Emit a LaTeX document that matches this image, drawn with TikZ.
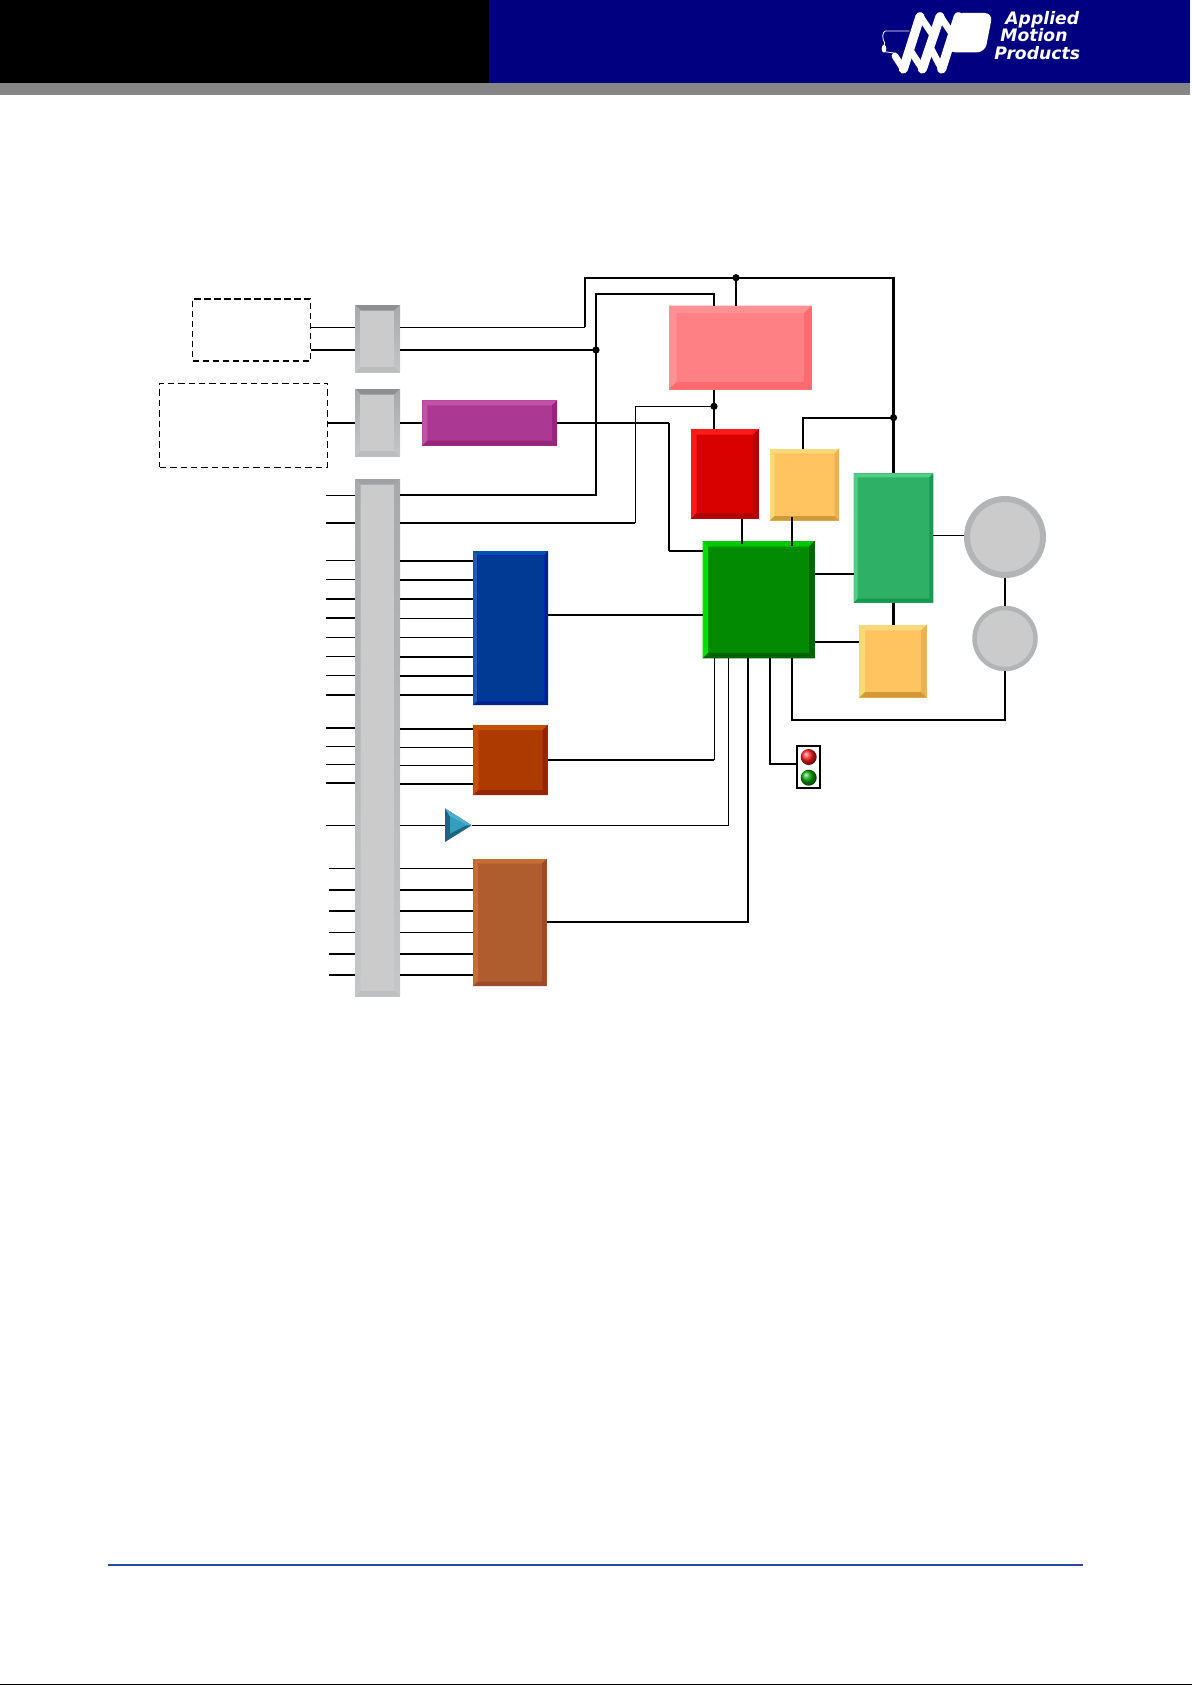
\documentclass[tikz,border=0pt]{standalone}
\usepackage{fontspec}
\newfontfamily\logofont{DejaVu Sans}
\newcommand\mypal[6]{%
  \definecolor{#1Fc}{HTML}{#2}\definecolor{#1Tc}{HTML}{#3}\definecolor{#1Lc}{HTML}{#4}%
  \definecolor{#1Rc}{HTML}{#5}\definecolor{#1Bc}{HTML}{#6}%
  \tikzset{#1T/.style={fill=#1Tc},#1L/.style={fill=#1Lc},#1R/.style={fill=#1Rc},#1B/.style={fill=#1Bc}}}
\mypal{pink}{FF8084}{FF9194}{FF9194}{FF6A6E}{FF6A6E}
\mypal{mag}{AB3893}{C052A8}{C052A8}{96257E}{96257E}
\mypal{red}{D90000}{FF1A1A}{FF1A1A}{B00000}{B00000}
\mypal{yel}{FFC35F}{FFD878}{FFD878}{EDB04F}{D29A35}
\mypal{grn}{2EB067}{50CE85}{50CE85}{169A50}{169A50}
\mypal{main}{028A02}{00C800}{00E000}{006400}{006400}
\mypal{blu}{003A94}{0050B0}{1A5FB5}{002480}{002480}
\mypal{org}{AD3A00}{C25200}{C25200}{952500}{952500}
\mypal{brn}{AF5C2F}{C56F33}{C56F33}{9E4A2A}{9E4A2A}
\mypal{gry}{CBCBCB}{8E8F91}{B4B5B7}{B4B5B7}{BBBCBE}
\mypal{gbar}{CBCBCB}{A0A1A3}{B4B5B7}{B4B5B7}{BEBFC1}
\definecolor{grayA}{HTML}{A8A9AB}\definecolor{grayB}{HTML}{C5C6C8}
\definecolor{ringc}{HTML}{B3B4B6}\definecolor{grayF}{HTML}{CBCBCB}
\definecolor{headblue}{HTML}{000080}\definecolor{headgray}{HTML}{868686}
\definecolor{rule}{HTML}{2A4B9B}
\definecolor{trface}{HTML}{339FBF}\definecolor{trdark}{HTML}{1E667F}\definecolor{trlight}{HTML}{4BB0CE}
\tikzset{
 gryL/.style={top color=grayA,bottom color=grayB},gryR/.style={top color=grayA,bottom color=grayB},
 gbarL/.style={top color=grayA,bottom color=grayB},gbarR/.style={top color=grayA,bottom color=grayB},
 thinw/.style={line width=0.6pt,black},
 medw/.style={line width=0.85pt,black},
 thickw/.style={line width=1.1pt,black},
 dot/.style={circle,fill=black,inner sep=0pt,minimum size=3.6pt},
 dashA/.style={draw=black,line width=0.75pt,dash pattern=on 3.2pt off 1.8pt,inner sep=0pt},
 dashB/.style={draw=black,line width=0.5pt,dash pattern=on 3.2pt off 2pt,inner sep=0pt},
 motor/.style={circle,draw=ringc,fill=grayF,inner sep=0pt},
 logotext/.style={anchor=base west,inner sep=0pt,text=white,font=\logofont\bfseries\itshape\fontsize{8.6}{10}\selectfont},
 coil/.style={white,line width=4.6pt,line cap=round},
 coilback/.style={white,line width=3.4pt,line cap=round},
}
% name, x1,y1,x2,y2, palette, bevel
\newcommand\bbox[7]{%
  \node[inner sep=0pt,outer sep=0pt,minimum width={(#4-#2)*0.5pt},minimum height={(#5-#3)*0.5pt},fill=#6Fc]
     (#1) at ({(#2+#4)/2},{(#3+#5)/2}) {};
  \path[#6T] (#2,#3)--(#4,#3)--({#4-#7},{#3+#7})--({#2+#7},{#3+#7})--cycle;
  \path[#6L] (#2,#3)--({#2+#7},{#3+#7})--({#2+#7},{#5-#7})--(#2,#5)--cycle;
  \path[#6R] (#4,#3)--({#4-#7},{#3+#7})--({#4-#7},{#5-#7})--(#4,#5)--cycle;
  \path[#6B] (#2,#5)--({#2+#7},{#5-#7})--({#4-#7},{#5-#7})--(#4,#5)--cycle;
}
\begin{document}
\begin{tikzpicture}[x=0.5pt,y=-0.5pt]
\useasboundingbox (0,0) rectangle (1192,1685);
% header
\fill[black] (0,0) rectangle (489,83);
\fill[headblue] (489,0) rectangle (1190,83);
\fill[headgray] (0,83) rectangle (1190,95);
% logo
\begin{scope}[shift={(870,0)},x=0.16667pt,y=-0.16667pt]
 \draw[coil] (100,207) -- (150,50);
 \draw[coil] (157,207) -- (210,50);
 \draw[coil] (215,207) -- (265,50);
 \draw[coilback] (150,48) -- (185,100);
 \draw[coilback] (210,48) -- (245,100);
 \draw[coilback] (120,150) -- (157,207);
 \draw[coilback] (185,150) -- (215,207);
 \draw[coilback] (75,168) -- (100,207);
 \fill[white,rounded corners=4pt] (255,39) -- (368,39) -- (345,157) -- (232,157) -- cycle;
 \draw[white,line width=0.4pt] (118,93) -- (46,93) .. controls (36,95) and (36,118) .. (44,128) -- (42,140);
 \draw[white,line width=0.4pt] (44,155) -- (78,160);
 \fill[white] (42,146) ellipse (7 and 12);
\end{scope}
\node[logotext] (lt1) at (1005,25) {Applied};
\node[logotext] (lt2) at (1000,42) {Motion};
\node[logotext] (lt3) at (994,60) {Products};
% footer
\fill[rule] (108,1564) rectangle (1083,1566);
\fill[black] (0,1684) rectangle (1192,1685);
% dashed boxes
\node[dashA,minimum width=59pt,minimum height=31pt] (d1) at (251.7,330) {};
\node[dashB,minimum width=84pt,minimum height=42pt] (d2) at (243.7,425) {};
% boxes
\bbox{g1}{355}{305}{400}{372.7}{gry}{5.7}
\bbox{g2}{355}{389}{400}{456.7}{gry}{5.7}
\bbox{bar}{355}{479}{400}{996.7}{gbar}{5.7}
\bbox{magb}{422.3}{400.3}{557}{445.7}{mag}{5}
\bbox{pinkb}{669}{305.7}{811.7}{389.7}{pink}{7.5}
\bbox{redb}{691}{429}{758.7}{518.7}{red}{5.7}
\bbox{yelA}{770}{449}{839}{520.7}{yel}{4.5}
\bbox{grnb}{853.7}{473.3}{933.3}{602.7}{grn}{4}
\bbox{mainb}{702.7}{541}{814.7}{658.3}{main}{5.5}
\bbox{yelB}{859.3}{625}{926.7}{697.7}{yel}{5.5}
\bbox{blub}{473.3}{551}{548}{705}{blu}{4}
\draw[line width=0.4pt,color=blue!40!bluFc] (477.3,555) rectangle (544,701);
\bbox{orgb}{473.3}{725}{547.7}{795}{org}{5}
\bbox{brnb}{473.3}{859}{546.7}{986}{brn}{4.5}
% motors
\node[motor,line width=3pt,minimum size=38pt] (m1) at (1005,537) {};
\node[motor,line width=2.25pt,minimum size=30.5pt] (m2) at (1005,638.5) {};
% amplifier
\coordinate (trA) at (445,808.3);\coordinate (trB) at (471.7,825.3);\coordinate (trC) at (445,842);
\fill[trdark] (trA)--(trB)--(trC)--cycle;
\fill[trlight] (trA)--(trB)--(466.5,825.3)--(450,816.5)--cycle;
\fill[trface] (450,816.5)--(466.5,825.3)--(450,833.5)--cycle;
% LED block
\node[draw=black,line width=0.9pt,inner sep=0pt,minimum width=11.8pt,minimum height=21.3pt,fill=white] (led) at (808.5,767) {};
\node[circle,ball color=red!90!white,inner sep=0pt,minimum size=8pt] (ledr) at (808.7,757) {};
\node[circle,ball color=green!65!black,inner sep=0pt,minimum size=8pt] (ledg) at (808.7,777.7) {};
% junctions
\node[dot] (j1) at (736,277.7) {};
\node[dot] (j2) at (596,350) {};
\node[dot] (j3) at (714,406.3) {};
\node[dot] (j4) at (893.5,417.7) {};
% upper section
\draw[thinw] (d1.east |- 0,327.3) -- (g1.west |- 0,327.3);
\draw[thickw] (d1.east |- 0,350) -- (g1.west |- 0,350);
\draw[thickw] (d2.east |- 0,423) -- (g2.west |- 0,423);
\draw[thickw] (g2.east |- 0,423) -- (magb.west |- 0,423);
\draw[thinw] (g1.east |- 0,327.3) -- (585.3,327.3);
\draw[medw] (585.3,327.3) |- (j1.center);
\draw[thickw] (j1.center) -| (grnb.north);
\draw[thickw] (j1.center) -- (j1.center |- pinkb.north);
\draw[thickw] (g1.east |- 0,350) -- (j2.center);
\draw[medw] (j2.center) |- (714,294.3) -- (714,0 |- pinkb.north);
\draw[medw] (j2.center) |- (bar.east |- 0,495.3);
\draw[medw] (714,0 |- pinkb.south) -- (714,0 |- redb.north);
\draw[thinw] (j3.center) -| (635.3,523);
\draw[thickw] (635.3,523) -- (bar.east |- 0,523);
\draw[thickw] (magb.east |- 0,423) -- (669,423);
\draw[medw] (669,423) -- (669,551.3);
\draw[medw] (669,551.3) -- (mainb.west |- 0,551.3);
\draw[medw] (741.7,0 |- redb.south) -- (741.7,544);
\draw[medw] (792,517) -- (792,546);
\draw[thickw] (j4.center) -| (803.3,0 |- yelA.north);
\draw[medw] (mainb.east |- 0,574.3) -- (grnb.west |- 0,574.3);
\draw[thinw] (grnb.east |- 0,535.3) -- (m1.west |- 0,535.3);
\draw[thickw] (mainb.east |- 0,642) -- (yelB.west |- 0,642);
\draw[thickw] (893.5,0 |- grnb.south) -- (893.5,0 |- yelB.north);
\draw[thickw] (m1.south) -- (m2.north);
\draw[thickw] (m2.south) |- (792,719.7) -- (792,0 |- mainb.south);
\draw[medw] (770,0 |- mainb.south) |- (led.west |- 0,764.3);
\draw[thinw] (714.3,0 |- mainb.south) -- (714.3,760);
\draw[thickw] (714.3,760) -- (orgb.east |- 0,760);
\draw[thinw] (728.3,0 |- mainb.south) |- (trB);
\draw[medw] (747.7,0 |- mainb.south) |- (brnb.east |- 0,922.3);
\draw[thickw] (blub.east |- 0,615) -- (mainb.west |- 0,615);
\draw[thinw] (bar.east |- 0,825.3) -- (trA |- 0,825.3);
% pins on the left of the long connector
\foreach \y/\w [count=\i] in {495.3/thinw,523/thinw,560.3/thinw,579.3/thinw,599/thickw,618/thickw,637.3/thinw,656.3/thinw,675.3/thinw,695/thickw,728/thickw,746.3/thinw,764.3/thinw,783/thickw,825.3/thinw}{
  \coordinate (pinA\i) at (326,\y);
  \draw[\w] (pinA\i) -- (bar.west |- pinA\i);
}
\foreach \y/\w [count=\i] in {868.3/thinw,889.7/thickw,910.7/thickw,932.3/thinw,953.7/thickw,974.7/thickw}{
  \coordinate (pinB\i) at (329,\y);
  \draw[\w] (pinB\i) -- (bar.west |- pinB\i);
  \draw[\w] (bar.east |- pinB\i) -- (brnb.west |- pinB\i);
}
% bus to the blue and orange blocks
\foreach \y/\w in {560.7/thickw,580/thickw,599/thickw,618.3/thinw,637.3/thinw,657/thickw,676/thickw,695/thickw}{
  \draw[\w] (bar.east |- 0,\y) -- (blub.west |- 0,\y);
}
\foreach \y/\w in {728.7/thickw,747.3/thinw,765.3/thinw,783.7/thickw}{
  \draw[\w] (bar.east |- 0,\y) -- (orgb.west |- 0,\y);
}
\end{tikzpicture}
\end{document}
